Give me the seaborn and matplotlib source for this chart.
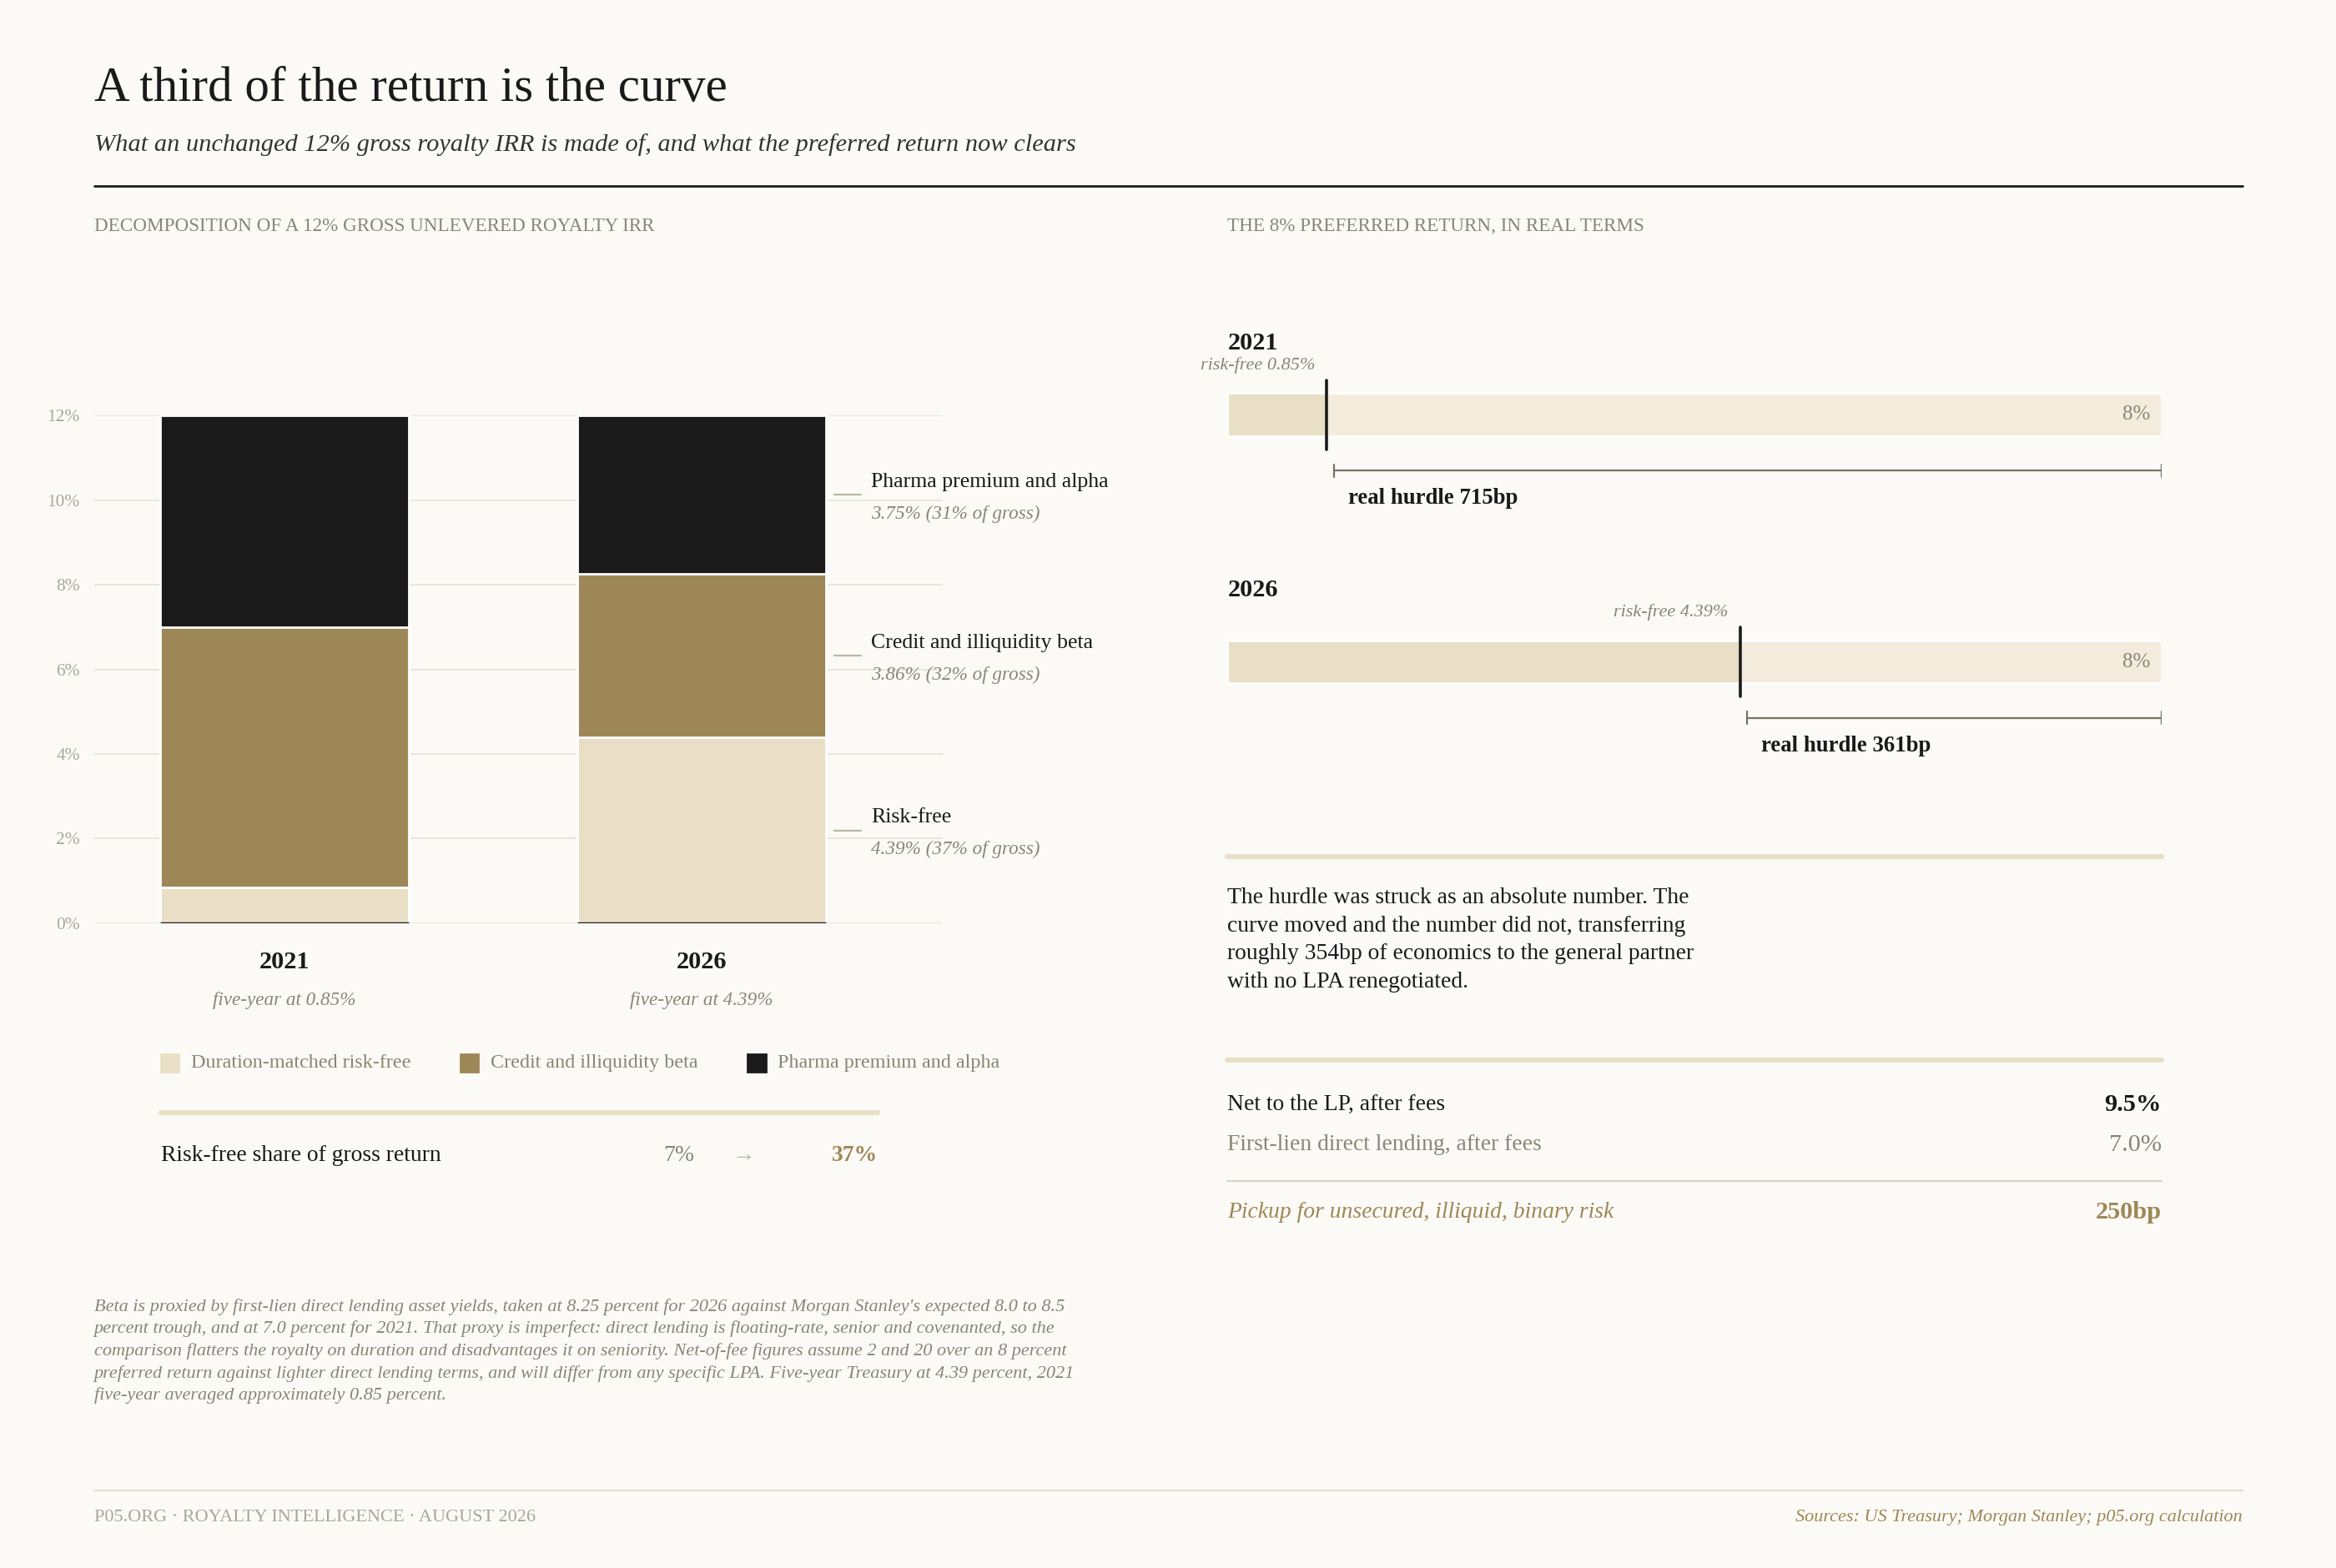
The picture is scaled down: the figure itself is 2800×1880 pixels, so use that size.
import numpy as np
import pandas as pd
import matplotlib.pyplot as plt
import seaborn as sns

# Data
years = ["2021", "2026"]
riskfree = [0.85, 4.39]
beta = [6.15, 3.86]
pharma = [5.00, 3.75]
gross = 12
hurdle = 8
yield_notes = ["five-year at 0.85%", "five-year at 4.39%"]
seg_names = ["Pharma premium and alpha", "Credit and illiquidity beta", "Risk-free"]
seg_notes = ["3.75% (31% of gross)", "3.86% (32% of gross)", "4.39% (37% of gross)"]
legend_names = ["Duration-matched risk-free", "Credit and illiquidity beta", "Pharma premium and alpha"]
share = ["7%", "37%"]
table_rows = [("Net to the LP, after fees", "9.5%"),
              ("First-lien direct lending, after fees", "7.0%"),
              ("Pickup for unsecured, illiquid, binary risk", "250bp")]

BG = "#fcfaf6"
LIGHT = "#e8dfc6"
PALE = "#f3ecdc"
BROWN = "#9e8757"
BLACK = "#1a1a1a"
GREY = "#8a8578"

sns.set_theme(style="white")
plt.rcParams['font.family'] = ['Liberation Serif', 'DejaVu Serif']

W, H = 1568, 1053
fx = lambda x: x / W
fy = lambda y: 1 - y / H
fs = lambda px: px * 0.643

fig = plt.figure(figsize=(14, 9.4), dpi=200, facecolor=BG)

def ftext(x, y, s, size, **kw):
    kw.setdefault("va", "center")
    fig.text(fx(x), fy(y), s, fontsize=fs(size), **kw)

def fline(x0, x1, y, color, lw):
    fig.add_artist(plt.Line2D([fx(x0), fx(x1)], [fy(y), fy(y)], color=color, lw=lw))

# Header
ftext(63, 60, "A third of the return is the curve", 33, color=BLACK)
ftext(63, 97, "What an unchanged 12% gross royalty IRR is made of, and what the preferred return now clears",
      17, style="italic", color="#333333")
fline(63, 1505, 125, BLACK, 1.0)
ftext(63, 152, "DECOMPOSITION OF A 12% GROSS UNLEVERED ROYALTY IRR", 13, color=GREY)
ftext(824, 152, "THE 8% PREFERRED RETURN, IN REAL TERMS", 13, color=GREY)

# Left stacked bars
ax = fig.add_axes([fx(63), fy(620), fx(633 - 63), (620 - 279) / H])
ax.set_facecolor(BG)
df = pd.DataFrame({"year": years, "rf": riskfree, "beta": beta, "pharma": pharma})
df["top"] = df.rf + df.beta + df.pharma
df["mid"] = df.rf + df.beta
bw = 0.596
sns.barplot(data=df, x="year", y="top", color=BLACK, width=bw, saturation=1, ax=ax, zorder=2)
sns.barplot(data=df, x="year", y="mid", color=BROWN, width=bw, saturation=1, ax=ax, zorder=3)
sns.barplot(data=df, x="year", y="rf", color=LIGHT, width=bw, saturation=1, ax=ax, zorder=4)
ax.set_xlim(-0.457, 1.579)
ax.set_ylim(0, gross)
ax.set_yticks(range(0, 13, 2))
ax.set_yticklabels([f"{v}%" for v in range(0, 13, 2)], fontsize=fs(12), color="#aaa69b")
ax.tick_params(axis="y", length=0, pad=6)
ax.grid(axis="y", color="#e9e5dc", lw=0.7, zorder=0)
ax.set_xticks([])
ax.set_xlabel("")
ax.set_ylabel("")
sns.despine(ax=ax, left=True, bottom=True)
for i in range(len(years)):
    ax.hlines(0, i - bw / 2, i + bw / 2, color=BLACK, lw=1.2, zorder=5)
    ax.text(i, -0.076, years[i], transform=ax.get_xaxis_transform(), ha="center", va="center",
            fontsize=fs(17), fontweight="bold", color=BLACK)
    ax.text(i, -0.152, yield_notes[i], transform=ax.get_xaxis_transform(), ha="center", va="center",
            fontsize=fs(13), style="italic", color=GREY)
mids = [riskfree[1] + beta[1] + pharma[1] / 2, riskfree[1] + beta[1] / 2, riskfree[1] / 2]
for m, name, note in zip(mids, seg_names, seg_notes):
    ax.plot([1.318, 1.382], [m, m], color="#bbb6aa", lw=0.8, clip_on=False)
    ax.text(1.407, m + 0.3, name, ha="left", va="center", fontsize=fs(14.5), color=BLACK, clip_on=False)
    ax.text(1.407, m - 0.45, note, ha="left", va="center", fontsize=fs(13), style="italic",
            color=GREY, clip_on=False)

# Legend
for x, name, c in zip([108, 309, 502], legend_names, [LIGHT, BROWN, BLACK]):
    fig.add_artist(plt.Rectangle((fx(x), fy(720)), fx(12), 12 / H, color=c, transform=fig.transFigure))
    ftext(x + 20, 714, name, 13.5, color=GREY)
fline(108, 589, 747, LIGHT, 2.2)
ftext(108, 776, "Risk-free share of gross return", 15.5, color=BLACK)
ftext(466, 776, share[0], 15.5, color=GREY, ha="right")
ftext(499, 776, "\u2192", 15.5, color="#bbb6aa", ha="center")
ftext(589, 776, share[1], 15.5, color=BROWN, ha="right", fontweight="bold")

# Right hurdle bars
ax2 = fig.add_axes([fx(824), fy(520), fx(1451 - 824), (520 - 200) / H])
ax2.set_facecolor(BG)
hd = pd.DataFrame({"year": years, "hurdle": [hurdle] * 2, "rf": riskfree})
sns.barplot(data=hd, y="year", x="hurdle", orient="h", color=PALE, width=0.175, saturation=1, ax=ax2)
sns.barplot(data=hd, y="year", x="rf", orient="h", color=LIGHT, width=0.175, saturation=1, ax=ax2)
ax2.set_xlim(0, hurdle)
ax2.set_ylim(1.455, -0.473)
ax2.axis("off")
for i, (yr, rf) in enumerate(zip(years, riskfree)):
    ax2.plot([rf, rf], [i - 0.14, i + 0.14], color=BLACK, lw=1.3)
    ax2.text(0, i - 0.29, yr, ha="left", va="center", fontsize=fs(17), fontweight="bold", color=BLACK)
    ax2.text(rf - 0.1, i - 0.2, f"risk-free {rf}%", ha="right", va="center", fontsize=fs(12.5),
             style="italic", color=GREY)
    ax2.text(hurdle - 0.1, i, f"{hurdle}%", ha="right", va="center", fontsize=fs(14), color=GREY)
    x0 = rf + 0.06
    ax2.plot([x0, hurdle], [i + 0.226] * 2, color="#777266", lw=0.8)
    for xe in (x0, hurdle):
        ax2.plot([xe, xe], [i + 0.2, i + 0.252], color="#777266", lw=0.8)
    ax2.text(x0 + 0.12, i + 0.34, f"real hurdle {round((hurdle - rf) * 100)}bp", ha="left", va="center",
             fontsize=fs(15), fontweight="bold", color=BLACK)

fline(824, 1451, 575, LIGHT, 2.2)
fig.text(fx(824), fy(596), "The hurdle was struck as an absolute number. The\ncurve moved and the number did not, transferring\n"
         "roughly 354bp of economics to the general partner\nwith no LPA renegotiated.",
         fontsize=fs(15.5), color=BLACK, va="top", linespacing=1.45)
fline(824, 1451, 712, LIGHT, 2.2)
row_y = [742, 769, 814]
styles = [dict(color=BLACK), dict(color=GREY), dict(color=BROWN, style="italic")]
vstyles = [dict(color=BLACK, fontweight="bold"), dict(color=GREY), dict(color=BROWN, fontweight="bold")]
for (lab, val), y, s, vs in zip(table_rows, row_y, styles, vstyles):
    ftext(824, y, lab, 15.5, **s)
    ftext(1451, y, val, 17, ha="right", **vs)
fline(824, 1451, 793, "#d8d4ca", 0.8)

# Footnote & footer
fig.text(fx(63), fy(872),
         "Beta is proxied by first-lien direct lending asset yields, taken at 8.25 percent for 2026 against Morgan Stanley's expected 8.0 to 8.5\n"
         "percent trough, and at 7.0 percent for 2021. That proxy is imperfect: direct lending is floating-rate, senior and covenanted, so the\n"
         "comparison flatters the royalty on duration and disadvantages it on seniority. Net-of-fee figures assume 2 and 20 over an 8 percent\n"
         "preferred return against lighter direct lending terms, and will differ from any specific LPA. Five-year Treasury at 4.39 percent, 2021\n"
         "five-year averaged approximately 0.85 percent.",
         fontsize=fs(12.5), style="italic", color=GREY, va="top", linespacing=1.45)
fline(63, 1505, 1001, "#e2ded4", 0.8)
ftext(63, 1019, "P05.ORG \u00b7 ROYALTY INTELLIGENCE \u00b7 AUGUST 2026", 12.5, color="#aaa69b")
ftext(1505, 1019, "Sources: US Treasury; Morgan Stanley; p05.org calculation", 12.5, color=BROWN,
      style="italic", ha="right")

fig.savefig("out.png", dpi=200, facecolor=BG)
